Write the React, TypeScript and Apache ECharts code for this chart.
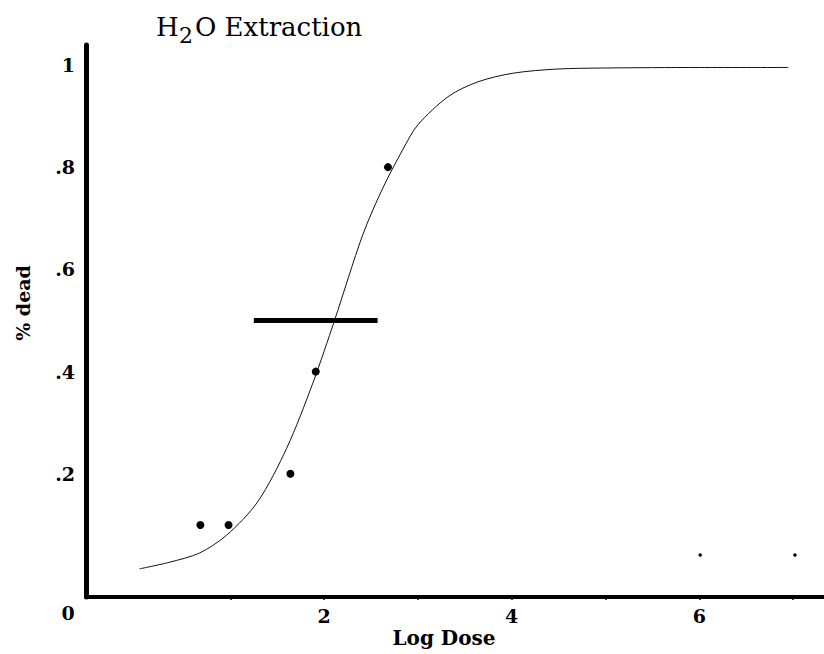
import { useEffect, useRef } from "react";
import * as echarts from "echarts";

const xLabelValues = [2, 4, 6];
const xTickValues = [1, 2, 3, 4, 5, 6, 7];
const yLabelValues = [0.2, 0.4, 0.6, 0.8, 1];
const yTickValues = [0.1, 0.2, 0.3, 0.4, 0.5, 0.6, 0.7, 0.8, 0.9, 1];

const observedDose = [0.68, 0.98, 1.64, 1.91, 2.68];
const observedDead = [0.1, 0.1, 0.2, 0.4, 0.8];

const controlDose = [6.01, 7.02];
const controlDead = [0.041, 0.041];

const fitDose = [0.03, 0.35, 0.67, 0.96, 1.29, 1.6, 1.88, 2.11, 2.41, 2.62, 2.84, 3.0, 3.33, 3.64, 4.02, 4.49, 5.0, 6.0, 6.95];
const fitDead = [0.014, 0.027, 0.045, 0.08, 0.145, 0.25, 0.378, 0.5, 0.667, 0.757, 0.835, 0.883, 0.939, 0.967, 0.984, 0.992, 0.994, 0.995, 0.995];

const ld50Dose = [1.25, 2.57];
const ld50Dead = [0.5, 0.5];

const FONT = "DejaVu Serif";

export default function App() {
  const ref = useRef<HTMLDivElement>(null);
  useEffect(() => {
    if (!ref.current) return;
    const chart = echarts.init(ref.current, undefined, { renderer: "svg" });
    const zip = (a: number[], b: number[]) => a.map((v, i) => [v, b[i]]);
    chart.setOption({
      animation: false,
      backgroundColor: "#fff",
      grid: { left: 86, right: 0, top: 45, bottom: 57, containLabel: false },
      xAxis: {
        type: "value",
        min: -0.54,
        max: 7.33,
        axisLine: { show: true, onZero: false, lineStyle: { color: "#000", width: 4 } },
        axisTick: { show: true, inside: false, length: 3, customValues: xTickValues, lineStyle: { color: "#000", width: 1.5 } },
        axisLabel: {
          customValues: xLabelValues,
          margin: 9,
          fontFamily: FONT,
          fontWeight: "bold",
          fontSize: 19,
          color: "#000",
        },
        splitLine: { show: false },
      },
      yAxis: {
        type: "value",
        min: -0.041,
        max: 1.039,
        axisLine: { show: true, onZero: false, lineStyle: { color: "#000", width: 5 } },
        axisTick: { show: true, inside: true, length: 3, customValues: yTickValues, lineStyle: { color: "#000", width: 1.5 } },
        axisLabel: {
          customValues: yLabelValues,
          margin: 11,
          fontFamily: FONT,
          fontWeight: "bold",
          fontSize: 19,
          color: "#000",
          formatter: (v: number) => (v === 1 ? "1" : String(v).replace(/^0/, "")),
        },
        splitLine: { show: false },
      },
      series: [
        {
          type: "line",
          data: zip(fitDose, fitDead),
          smooth: 0.3,
          showSymbol: false,
          lineStyle: { color: "#111", width: 1 },
          z: 2,
        },
        {
          type: "line",
          data: zip(ld50Dose, ld50Dead),
          showSymbol: false,
          lineStyle: { color: "#000", width: 5 },
          z: 3,
        },
        {
          type: "scatter",
          data: zip(observedDose, observedDead),
          symbol: "circle",
          symbolSize: 8,
          itemStyle: { color: "#000", opacity: 1 },
          z: 4,
        },
        {
          type: "scatter",
          data: zip(controlDose, controlDead),
          symbol: "circle",
          symbolSize: 3.5,
          itemStyle: { color: "#000", opacity: 1 },
          z: 4,
        },
      ],
      graphic: [
        {
          type: "text",
          left: 156,
          top: 14,
          style: { text: "H", font: `26px '${FONT}'`, fill: "#000" },
        },
        {
          type: "text",
          left: 179,
          top: 24,
          style: { text: "2", font: `22px '${FONT}'`, fill: "#000" },
        },
        {
          type: "text",
          left: 195,
          top: 14,
          style: { text: "O Extraction", font: `26px '${FONT}'`, fill: "#000" },
        },
        {
          type: "text",
          x: 23,
          y: 303,
          rotation: Math.PI / 2,
          style: {
            text: "% dead",
            font: `bold 19px '${FONT}'`,
            fill: "#000",
            align: "center",
            verticalAlign: "middle",
          },
        },
        {
          type: "text",
          x: 444,
          y: 638,
          style: {
            text: "Log Dose",
            font: `bold 20px '${FONT}'`,
            fill: "#000",
            align: "center",
            verticalAlign: "middle",
          },
        },
        {
          type: "text",
          x: 68,
          y: 613,
          style: {
            text: "0",
            font: `bold 19px '${FONT}'`,
            fill: "#000",
            align: "center",
            verticalAlign: "middle",
          },
        },
      ],
    });
    return () => chart.dispose();
  }, []);
  return <div ref={ref} style={{ width: 824, height: 654, position: "absolute", left: 0, top: 0 }} />;
}
